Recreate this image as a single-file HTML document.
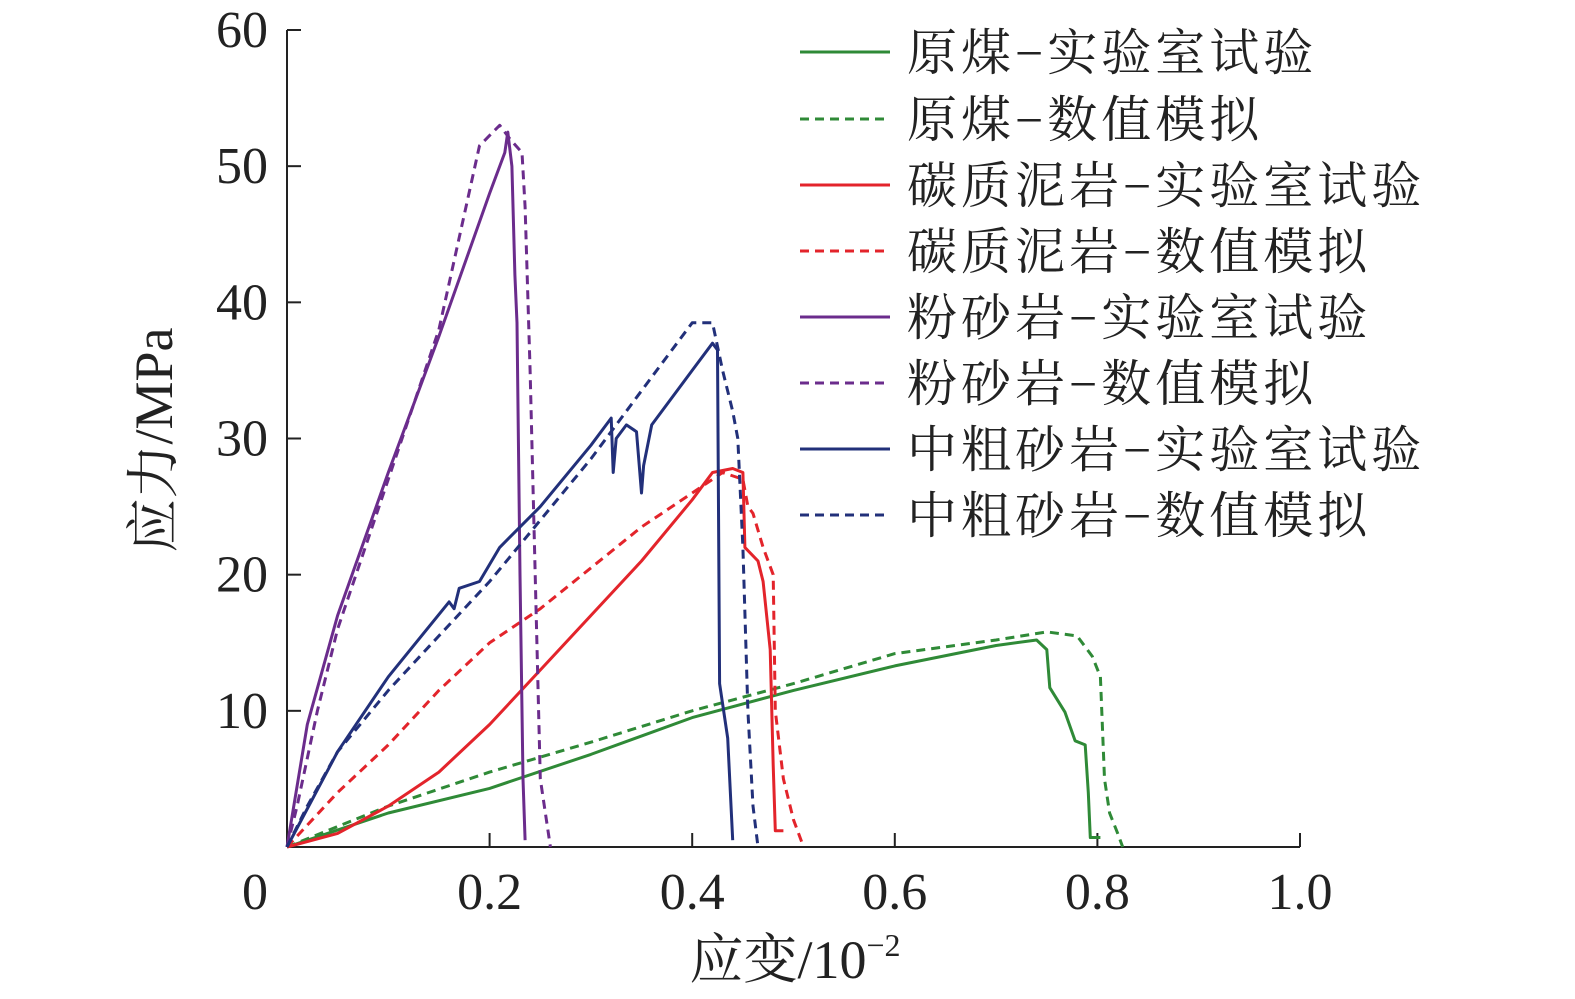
<!DOCTYPE html>
<html><head><meta charset="utf-8"><style>
html,body{margin:0;padding:0;background:#fff;}
svg{display:block;}
text{font-family:"Liberation Serif","Noto Serif CJK SC",serif;fill:#222;}
</style></head><body>
<svg id="chart" width="1575" height="999">
<g id="axes"></g><g id="series"></g><g id="legend"></g>
<text x="172" y="440" font-size="54" text-anchor="middle" transform="rotate(-90 172 440)">应力/MPa</text>
<text x="795" y="978" font-size="54" text-anchor="middle">应变/10<tspan font-size="32" dy="-22">−2</tspan></text>
</svg>
<script>
const xTicks=[0,0.2,0.4,0.6,0.8,1.0];
const xTickLabels=["0","0.2","0.4","0.6","0.8","1.0"];
const yTicks=[10,20,30,40,50,60];
const yTickLabels=["10","20","30","40","50","60"];
const seriesNames=["原煤−实验室试验","原煤−数值模拟","碳质泥岩−实验室试验","碳质泥岩−数值模拟","粉砂岩−实验室试验","粉砂岩−数值模拟","中粗砂岩−实验室试验","中粗砂岩−数值模拟"];
const coalLabX=[0,0.1,0.2,0.3,0.4,0.5,0.6,0.7,0.74,0.75,0.753,0.768,0.778,0.788,0.791,0.793,0.803];
const coalLabY=[0,2.5,4.3,6.8,9.5,11.5,13.3,14.8,15.2,14.5,11.7,9.9,7.8,7.5,4,0.7,0.7];
const coalSimX=[0,0.1,0.2,0.3,0.4,0.5,0.6,0.7,0.75,0.78,0.795,0.803,0.807,0.812,0.82,0.825];
const coalSimY=[0,3,5.5,7.7,10,12,14.2,15.2,15.8,15.5,14,12.5,5,2.5,1,0];
const mudLabX=[0,0.05,0.1,0.15,0.2,0.25,0.3,0.35,0.4,0.42,0.44,0.45,0.452,0.465,0.47,0.477,0.48,0.482,0.49];
const mudLabY=[0,1,3,5.5,9,13,17,21,25.5,27.5,27.8,27.5,22,21,19.5,14.5,6,1.2,1.2];
const mudSimX=[0,0.05,0.1,0.15,0.2,0.25,0.3,0.35,0.4,0.43,0.45,0.455,0.46,0.47,0.48,0.482,0.49,0.5,0.51];
const mudSimY=[0,4,7.5,11.5,15,17.5,20.5,23.5,26,27.5,27,25,24.5,22,20,10,5,2,0];
const siltLabX=[0,0.02,0.05,0.1,0.15,0.2,0.215,0.218,0.222,0.225,0.227,0.23,0.233,0.235];
const siltLabY=[0,9,17,27.5,37.5,48,51,52.5,50,42,38.5,20,5,0.5];
const siltSimX=[0,0.01,0.03,0.05,0.1,0.15,0.19,0.21,0.22,0.232,0.235,0.24,0.245,0.25,0.258,0.26];
const siltSimY=[0,3,10,16,27,38,51.5,53,52,51,47,35,20,5,1,0];
const sandLabX=[0,0.05,0.1,0.16,0.165,0.17,0.19,0.21,0.25,0.3,0.32,0.322,0.325,0.335,0.345,0.35,0.352,0.36,0.4,0.42,0.425,0.427,0.435,0.44];
const sandLabY=[0,7,12.5,18,17.5,19,19.5,22,25,29.5,31.5,27.5,30,31,30.5,26,28,31,35,37,36.5,12,8,0.5];
const sandSimX=[0,0.02,0.05,0.1,0.15,0.2,0.25,0.3,0.35,0.38,0.4,0.42,0.43,0.44,0.445,0.45,0.455,0.46,0.465];
const sandSimY=[0,3,7,11.5,15.5,19.5,24,28.5,33.5,36.5,38.5,38.5,35,32,30,22,10,3,0];

const X0=287,X1=1300,Y0=847,Y1=30;
const sx=v=>X0+(v-0)/(1.0)*(X1-X0);
const sy=v=>Y0-(v/60)*(Y0-Y1);
const NS="http://www.w3.org/2000/svg";
function mk(tag,attrs,parent){const e=document.createElementNS(NS,tag);for(const k in attrs)e.setAttribute(k,attrs[k]);parent.appendChild(e);return e;}
const axes=document.getElementById('axes');
let e=mk('line',{x1:X0,y1:Y0,x2:X1,y2:Y0,stroke:'#222','stroke-width':2},axes);


e=mk('line',{x1:X0,y1:Y0,x2:X0,y2:Y1,stroke:'#222','stroke-width':2},axes);


xTicks.forEach((v,i)=>{
  if(i>0){const t=mk('line',{x1:sx(v),y1:Y0,x2:sx(v),y2:Y0-14,stroke:'#222','stroke-width':2},axes);
  
  }
  const l=mk('text',{x:sx(v)+(i==0?-32:0),y:909,'font-size':52,'text-anchor':'middle'},axes);l.textContent=xTickLabels[i];
  
  
});
yTicks.forEach((v,i)=>{
  const t=mk('line',{x1:X0,y1:sy(v),x2:X0+14,y2:sy(v),stroke:'#222','stroke-width':2},axes);
  
  
  const l=mk('text',{x:268,y:sy(v)+17,'font-size':52,'text-anchor':'end'},axes);l.textContent=yTickLabels[i];
  
  
});
const colors=['#2f8a37','#2f8a37','#e3242b','#e3242b','#6b2c8c','#6b2c8c','#22307a','#22307a'];
const dashed=[false,true,false,true,false,true,false,true];
const keys=['coal-lab','coal-sim','mudstone-lab','mudstone-sim','siltstone-lab','siltstone-sim','sandstone-lab','sandstone-sim'];
const data=[[coalLabX,coalLabY],[coalSimX,coalSimY],[mudLabX,mudLabY],[mudSimX,mudSimY],[siltLabX,siltLabY],[siltSimX,siltSimY],[sandLabX,sandLabY],[sandSimX,sandSimY]];
const sg=document.getElementById('series');
data.forEach((d,i)=>{
  const pts=d[0].map((x,j)=>sx(x).toFixed(1)+','+sy(d[1][j]).toFixed(1)).join(' ');
  const p=mk('polyline',{points:pts,fill:'none',stroke:colors[i],'stroke-width':3,'stroke-linejoin':'round'},sg);
  if(dashed[i])p.setAttribute('stroke-dasharray','9 6');
  
  
});
const lg=document.getElementById('legend');
const legY=[52,119,185,251,317,383,449,515];
seriesNames.forEach((n,i)=>{
  const g=mk('g',{},lg);
  
  
  const l=mk('line',{x1:800,y1:legY[i],x2:890,y2:legY[i],stroke:colors[i],'stroke-width':3},g);
  if(dashed[i])l.setAttribute('stroke-dasharray','9 6');
  const t=mk('text',{x:907,y:legY[i]+18,'font-size':50,'letter-spacing':4},g);t.textContent=n;
});
</script>
</body></html>
